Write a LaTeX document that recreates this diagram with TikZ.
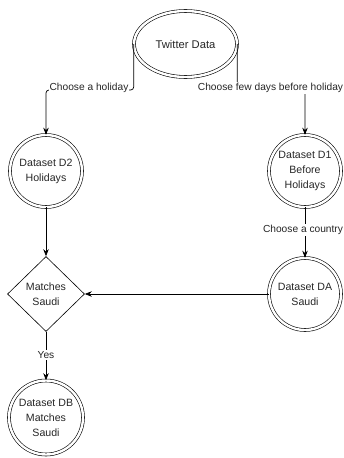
\documentclass[tikz,border=0pt]{standalone}
\usepackage{fontspec}
\setmainfont{Liberation Sans}
\usetikzlibrary{shapes.geometric,arrows.meta}
\begin{document}
\begin{tikzpicture}[x=1pt,y=-1pt,
  every node/.style={text=black!85},
  dcircle/.style={circle,draw,double,double distance=2.4pt,line width=0.6pt,minimum size=72pt,inner sep=0pt,align=center,font=\fontsize{10.6}{15}\selectfont},
  dellipse/.style={ellipse,draw,double,double distance=2.4pt,line width=0.6pt,minimum width=103pt,minimum height=66pt,inner sep=0pt,align=center,font=\fontsize{11.2}{14}\selectfont},
  decbox/.style={diamond,draw,line width=0.6pt,minimum width=77pt,minimum height=75pt,inner sep=0pt,align=center,font=\fontsize{10.6}{15}\selectfont},
  edgelab/.style={fill=white,inner sep=1pt,font=\fontsize{10.2}{12}\selectfont},
  arr/.style={draw,line width=0.7pt,-{Stealth[length=7pt,width=5.5pt]}}]
\useasboundingbox (0,0) rectangle (344,458);

\node[dellipse] (tw) at (185.5,44) {Twitter Data};
\node[dcircle] (d2) at (46,171) {Dataset D2\\Holidays};
\node[dcircle] (d1) at (305,171) {Dataset D1\\Before\\Holidays};
\node[dcircle] (da) at (305,294) {Dataset DA\\Saudi};
\node[decbox] (ms) at (46,294) {Matches\\Saudi};
\node[dcircle,minimum size=74pt] (db) at (46,417.5) {Dataset DB\\Matches\\Saudi};

\draw[arr,rounded corners=3pt] (tw.west) -- (tw.west |- 0,90) -- (d2.north |- 0,90) -- (d2.north);
\draw[arr,rounded corners=3pt] (tw.east) -- (tw.east |- 0,90) -- (d1.north |- 0,90) -- (d1.north);
\draw[arr] (d1.south) -- (da.north);
\draw[arr] (d2.south) -- (ms.north);
\draw[arr] (da.west) -- (ms.east);
\draw[arr] (ms.south) -- (db.north);

\node[edgelab] (l1) at (89,88) {Choose a holiday};
\node[edgelab] (l2) at (270.5,88) {Choose few days before holiday};
\node[edgelab] (l3) at (303,230) {Choose a country};
\node[edgelab] (l4) at (46,355) {Yes};
\end{tikzpicture}
\end{document}
